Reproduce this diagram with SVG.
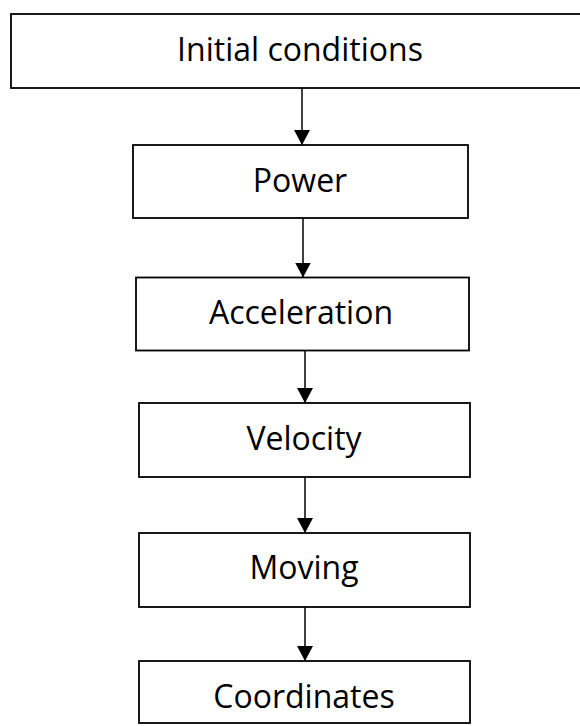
<svg xmlns="http://www.w3.org/2000/svg" width="580" height="726" viewBox="0 0 580 726">
  <defs>
    <marker id="arrowhead" viewBox="0 0 15 16" refX="15" refY="8" markerWidth="15" markerHeight="16" markerUnits="userSpaceOnUse" orient="auto">
      <path d="M0,0 L15,8 L0,16 Z" fill="#000"/>
    </marker>
    <style>
      .box { fill: #fff; stroke: #000; stroke-width: 1.8; }
      .label { font-family: "Open Sans", "Liberation Sans", sans-serif; font-size: 32px; fill: #000; text-anchor: middle; }
      .link { stroke: #000; stroke-width: 1.5; fill: none; marker-end: url(#arrowhead); }
    </style>
  </defs>
  <rect width="580" height="726" fill="#fff"/>

  <g id="connectors">
    <line class="link" x1="302" y1="88" x2="302" y2="145"/>
    <line class="link" x1="303" y1="218" x2="303" y2="277.5"/>
    <line class="link" x1="305" y1="351" x2="305" y2="403"/>
    <line class="link" x1="305" y1="477" x2="305" y2="533"/>
    <line class="link" x1="305" y1="607" x2="305" y2="661"/>
  </g>

  <g id="initial-conditions">
    <rect class="box" x="11" y="14" width="582" height="74"/>
    <text class="label" x="300" y="61">Initial conditions</text>
  </g>

  <g id="power">
    <rect class="box" x="133" y="145" width="335" height="73"/>
    <text class="label" x="300" y="192">Power</text>
  </g>

  <g id="acceleration">
    <rect class="box" x="136" y="277.5" width="333" height="73"/>
    <text class="label" x="301" y="324">Acceleration</text>
  </g>

  <g id="velocity">
    <rect class="box" x="139" y="403" width="331" height="74"/>
    <text class="label" x="304" y="450">Velocity</text>
  </g>

  <g id="moving">
    <rect class="box" x="139" y="533" width="331" height="74"/>
    <text class="label" x="304" y="579">Moving</text>
  </g>

  <g id="coordinates">
    <rect class="box" x="139" y="661" width="331" height="62"/>
    <text class="label" x="304" y="708">Coordinates</text>
  </g>
</svg>
